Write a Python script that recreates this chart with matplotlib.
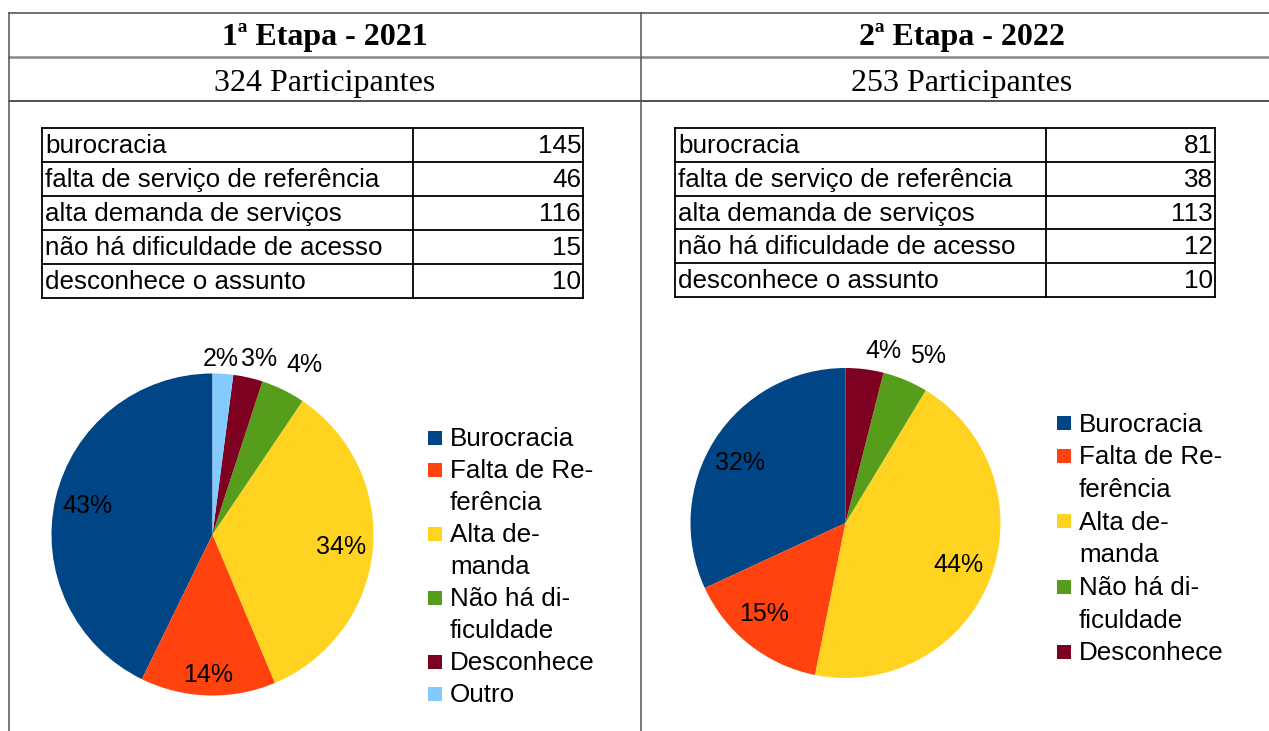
import numpy as np
import matplotlib.pyplot as plt
from matplotlib.patches import Rectangle

"""
Dificuldades de acesso - 1a e 2a etapa
"""

W, H = 1269, 731

etapas = ['1ª Etapa - 2021', '2ª Etapa - 2022']
participantes = [324, 253]

motivos = ['burocracia', 'falta de serviço de referência', 'alta demanda de serviços',
           'não há dificuldade de acesso', 'desconhece o assunto']
respostas_2021 = [145, 46, 116, 15, 10]
respostas_2022 = [81, 38, 113, 12, 10]
outro_2021 = 7  # so aparece na pizza, valor estimado (~2%)

legenda = ['Burocracia', 'Falta de Re-\nferência', 'Alta de-\nmanda',
           'Não há di-\nficuldade', 'Desconhece', 'Outro']
cores = ['#004586', '#ff420e', '#ffd320', '#579d1c', '#7e0021', '#83caff']

SANS = 'Liberation Sans'
SERIF = 'Liberation Serif'

fig = plt.figure(figsize=(W / 100, H / 100), dpi=100)
fundo = fig.add_axes([0, 0, 1, 1])
fundo.set_xlim(0, W)
fundo.set_ylim(H, 0)
fundo.axis('off')

# grade externa
fundo.plot([8.5, W], [12.5, 12.5], color='#4a4a4a', lw=1.1)
fundo.plot([8.5, W], [57, 57], color='#888888', lw=1.8)
fundo.plot([8.5, W], [101, 101], color='#222222', lw=1.1)
fundo.plot([8.5, 8.5], [12.5, H], color='#555555', lw=1.1)
fundo.plot([641, 641], [12.5, H], color='#555555', lw=1.1)


def tabela(x0, xm, x1, y0, valores, passo=34):
    n = len(motivos)
    y1 = y0 + n * passo
    for y in [y0 + i * passo for i in range(n + 1)]:
        fundo.plot([x0, x1], [y, y], color='black', lw=1.3, solid_capstyle='projecting')
    for x in [x0, xm, x1]:
        fundo.plot([x, x], [y0, y1], color='black', lw=1.3, solid_capstyle='projecting')
    for i, (m, v) in enumerate(zip(motivos, valores)):
        yb = y0 + i * passo + 25
        fundo.text(x0 + 3, yb, m, ha='left', va='baseline', fontsize=18.7, family=SANS)
        fundo.text(x1 - 2, yb, str(v), ha='right', va='baseline', fontsize=18.7, family=SANS)


def pizza(valores, cx, cy, R, dist, giro):
    ax = fig.add_axes([(cx - R) / W, 1 - (cy + R) / H, 2 * R / W, 2 * R / H])
    fatias, _ = ax.pie(valores, colors=cores[:len(valores)], startangle=90,
                       counterclock=True, wedgeprops=dict(linewidth=0))
    ax.set_xlim(-1, 1)
    ax.set_ylim(-1, 1)
    total = sum(valores)
    for f, v, d, g in zip(fatias, valores, dist, giro):
        ang = np.deg2rad((f.theta1 + f.theta2) / 2 + g)
        ax.text(d * np.cos(ang), d * np.sin(ang), f'{100 * v / total:.0f}%',
                ha='center', va='center', fontsize=18, family=SANS, clip_on=False)


def legenda_pizza(x, y, passo, n):
    linha = 0
    for i in range(n):
        yy = y + linha * passo
        fundo.add_patch(Rectangle((x, yy - 7), 13.5, 14, color=cores[i], lw=0))
        for parte in legenda[i].split('\n'):
            fundo.text(x + 22, y + linha * passo + 1.5, parte, ha='left', va='center',
                       fontsize=18.7, family=SANS)
            linha += 1


# cabecalhos
for cx, et, p in zip([325, 962], etapas, participantes):
    fundo.text(cx, 45, et, ha='center', va='baseline', fontsize=23,
               family=SERIF, weight='bold')
    fundo.text(cx, 91, f'{p} Participantes', ha='center', va='baseline',
               fontsize=23, family=SERIF)

tabela(42, 413, 583, 128, respostas_2021)
tabela(675, 1046, 1215, 128, respostas_2022, passo=33.8)

pizza(respostas_2021 + [outro_2021], 212.5, 534.5, 161,
      [0.80, 0.875, 0.80, 1.198, 1.128, 1.091],
      [0, 0, 0, -2.5, -2.0, 0.9])
pizza(respostas_2022, 845.5, 523, 155,
      [0.786, 0.79, 0.78, 1.2, 1.137],
      [3.0, -3.7, 0.8, -3.5, -5.5])

legenda_pizza(428, 438, 32, 6)
legenda_pizza(1057, 423, 32.7, 5)

fig.savefig('out.png', dpi=100)
